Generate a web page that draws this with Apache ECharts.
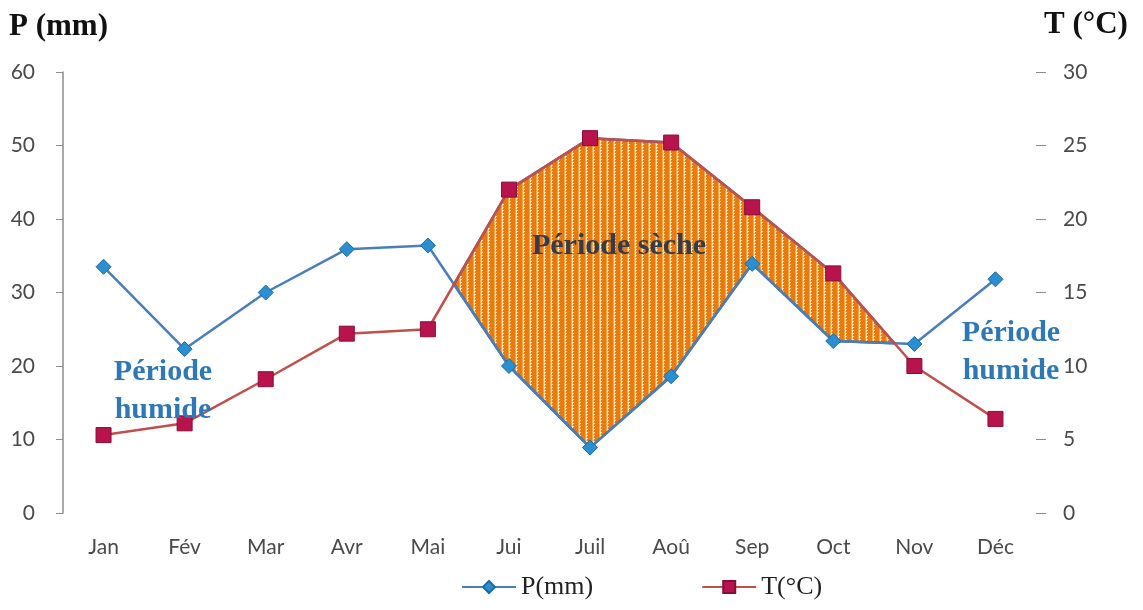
<!DOCTYPE html>
<html>
<head>
<meta charset="utf-8">
<title>Diagramme ombrothermique</title>
<script src="https://cdn.jsdelivr.net/npm/echarts@6/dist/echarts.min.js"></script>
<style>
  html, body { margin: 0; padding: 0; background: #ffffff; }
  #chart { width: 1143px; height: 610px; }
</style>
</head>
<body>
<div id="chart"></div>
<script>
// Monthly climate data
const months = ['Jan', 'Fév', 'Mar', 'Avr', 'Mai', 'Jui', 'Juil', 'Aoû', 'Sep', 'Oct', 'Nov', 'Déc'];
const precipitation = [33.5, 22.3, 30, 35.9, 36.4, 20, 8.9, 18.6, 33.9, 23.4, 23, 31.8];
const temperature = [5.3, 6.1, 9.1, 12.2, 12.5, 22, 25.5, 25.2, 20.8, 16.3, 10, 6.4];
const pAxisTicks = { min: 0, max: 60, interval: 10 };
const tAxisTicks = { min: 0, max: 30, interval: 5 };

// Hatched orange fill for the dry period
function makeHatch() {
  const c = document.createElement('canvas');
  c.width = 7; c.height = 3;
  const g = c.getContext('2d');
  g.fillStyle = '#ea7a0e';
  g.fillRect(0, 0, 7, 3);
  g.fillStyle = '#f5a64c';
  g.fillRect(4, 0, 1, 3);
  g.fillStyle = '#fff3c4';
  g.fillRect(5, 0, 1, 2);
  g.fillStyle = '#f7c27a';
  g.fillRect(5, 2, 1, 1);
  g.fillStyle = '#fbd99a';
  g.fillRect(6, 0, 1, 1);
  return c;
}
const hatch = makeHatch();

// Dry period: where 2T exceeds P (Gaussen convention P = 2T)
function renderDry(params, api) {
  if (params.dataIndex !== 0) return;
  const d = months.map((_, i) => 2 * temperature[i] - precipitation[i]);
  const children = [];
  let i = 0;
  while (i < months.length) {
    if (d[i] <= 0) { i++; continue; }
    const start = i;
    while (i < months.length && d[i] > 0) i++;
    const end = i - 1;
    const upper = [];
    const lower = [];
    if (start > 0) {
      const t = d[start - 1] / (d[start - 1] - d[start]);
      const a = api.coord([start - 1, precipitation[start - 1]]);
      const b = api.coord([start, precipitation[start]]);
      upper.push([a[0] + t * (b[0] - a[0]), a[1] + t * (b[1] - a[1])]);
    }
    for (let k = start; k <= end; k++) upper.push(api.coord([k, 2 * temperature[k]]));
    if (end < months.length - 1) {
      const t = d[end] / (d[end] - d[end + 1]);
      const a = api.coord([end, precipitation[end]]);
      const b = api.coord([end + 1, precipitation[end + 1]]);
      upper.push([a[0] + t * (b[0] - a[0]), a[1] + t * (b[1] - a[1])]);
    }
    for (let k = end; k >= start; k--) lower.push(api.coord([k, precipitation[k]]));
    children.push({
      type: 'polygon',
      shape: { points: upper.concat(lower) },
      style: { fill: { image: hatch, repeat: 'repeat' }, stroke: '#3f5f8f', lineWidth: 2.5, lineJoin: 'round' }
    });
  }
  return { type: 'group', children: children };
}

const chart = echarts.init(document.getElementById('chart'), null, { renderer: 'canvas' });

const axisFont = { fontFamily: 'Lato', fontSize: 21, color: '#4a4a4a' };
const serif = 'Liberation Serif';

chart.setOption({
  animation: false,
  backgroundColor: '#ffffff',
  grid: { left: 63, right: 107, top: 72, bottom: 97 },
  legend: {
    data: ['P(mm)', 'T(°C)'],
    bottom: 5,
    left: 456,
    itemWidth: 54,
    itemHeight: 15,
    itemGap: 108,
    textStyle: { fontFamily: serif, fontSize: 26, color: '#222222' }
  },
  xAxis: {
    type: 'category',
    data: months,
    boundaryGap: true,
    axisLine: { show: false },
    axisTick: { show: false },
    axisLabel: Object.assign({ margin: 24 }, axisFont),
    splitLine: { show: false }
  },
  yAxis: [
    {
      type: 'value',
      min: pAxisTicks.min, max: pAxisTicks.max, interval: pAxisTicks.interval,
      axisLine: { show: true, lineStyle: { color: '#8c8c8c', width: 1.5 } },
      axisTick: { show: true, length: 7, lineStyle: { color: '#8c8c8c' } },
      axisLabel: Object.assign({ margin: 28 }, axisFont),
      splitLine: { show: false }
    },
    {
      type: 'value',
      position: 'right',
      min: tAxisTicks.min, max: tAxisTicks.max, interval: tAxisTicks.interval,
      axisLine: { show: false },
      axisTick: { show: true, length: 10, lineStyle: { color: '#8c8c8c' } },
      axisLabel: Object.assign({ margin: 27 }, axisFont),
      splitLine: { show: false }
    }
  ],
  graphic: [
    { type: 'text', left: 9, top: 11, style: { text: 'P (mm)', font: 'bold 31px "Liberation Serif"', fill: '#111111' } },
    { type: 'text', left: 1044, top: 9, style: { text: 'T (°C)', font: 'bold 31px "Liberation Serif"', fill: '#111111' } },
    { type: 'text', x: 619, y: 246, z: 100, style: { text: 'Période sèche', font: 'bold 30px "Liberation Serif"', fill: '#343b4c', align: 'center', verticalAlign: 'middle' } },
    { type: 'text', x: 163, y: 391, z: 100, style: { text: 'Période\nhumide', font: 'bold 30px "Liberation Serif"', lineHeight: 38, fill: '#2e78b8', align: 'center', verticalAlign: 'middle' } },
    { type: 'text', x: 1011, y: 352, z: 100, style: { text: 'Période\nhumide', font: 'bold 30px "Liberation Serif"', lineHeight: 38, fill: '#2e78b8', align: 'center', verticalAlign: 'middle' } }
  ],
  series: [
    {
      name: 'Période sèche',
      type: 'custom',
      xAxisIndex: 0,
      yAxisIndex: 0,
      silent: true,
      z: 1,
      data: [[0, 0]],
      renderItem: renderDry
    },
    {
      name: 'P(mm)',
      type: 'line',
      yAxisIndex: 0,
      data: precipitation,
      z: 3,
      symbol: 'diamond',
      symbolSize: 15,
      lineStyle: { color: '#4a7ebb', width: 2.5 },
      itemStyle: { color: '#2a8fd0', borderColor: '#1d6aa5', borderWidth: 1 }
    },
    {
      name: 'T(°C)',
      type: 'line',
      yAxisIndex: 1,
      data: temperature,
      z: 4,
      symbol: 'rect',
      symbolSize: 15,
      lineStyle: { color: '#c0504d', width: 2.5 },
      itemStyle: { color: '#b8134c', borderColor: '#8a0d38', borderWidth: 1 }
    }
  ]
});
</script>
</body>
</html>
